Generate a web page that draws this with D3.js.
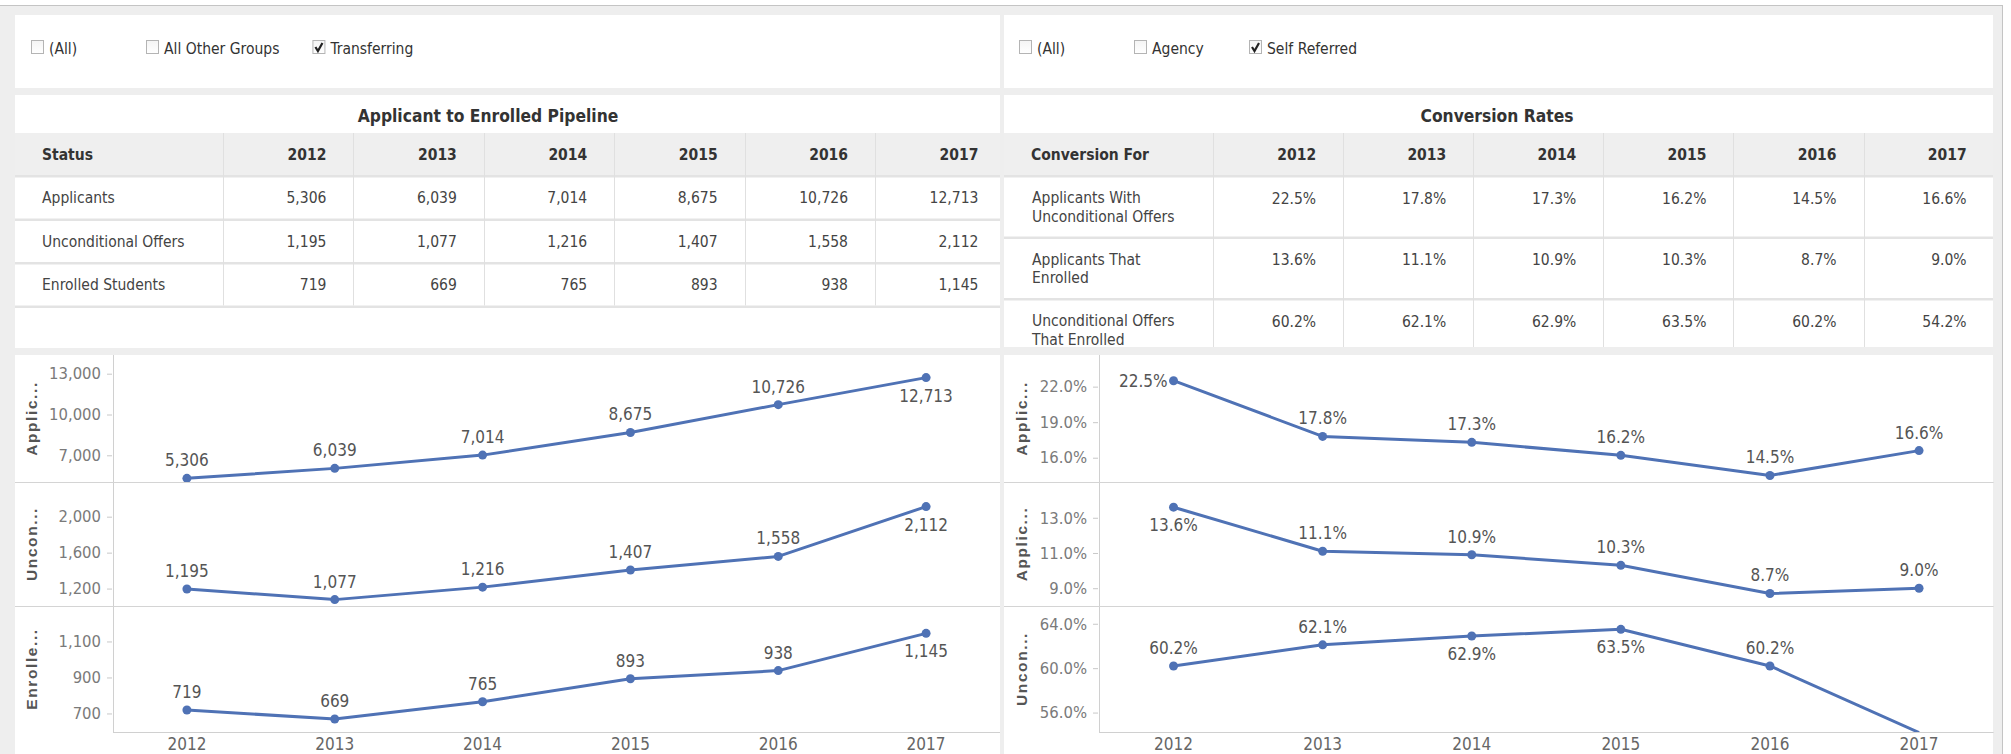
<!DOCTYPE html>
<html>
<head>
<meta charset="utf-8">
<script src="https://cdn.jsdelivr.net/npm/d3@7"></script>
<style>
  html, body { margin: 0; padding: 0; background: #fff; overflow: hidden; }
  svg { display: block; }
  text { font-family: "Liberation Sans Narrow", "Arial Narrow", "DejaVu Sans Condensed", sans-serif; }
</style>
</head>
<body>
<script>
const years = ["2012", "2013", "2014", "2015", "2016", "2017"];

// pipeline counts
const statusLabels = ["Applicants", "Unconditional Offers", "Enrolled Students"];
const applicants = [5306, 6039, 7014, 8675, 10726, 12713];
const uncondOffers = [1195, 1077, 1216, 1407, 1558, 2112];
const enrolled = [719, 669, 765, 893, 938, 1145];

// conversion rates, in percent
const conversionLabels = [
  ["Applicants With", "Unconditional Offers"],
  ["Applicants That", "Enrolled"],
  ["Unconditional Offers", "That Enrolled"]
];
const rateWithOffers = [22.5, 17.8, 17.3, 16.2, 14.5, 16.6];
const rateEnrolled = [13.6, 11.1, 10.9, 10.3, 8.7, 9.0];
const rateOffersEnrolled = [60.2, 62.1, 62.9, 63.5, 60.2, 54.2];

// axis ticks
const ticksApplicants = [7000, 10000, 13000];
const ticksOffers = [1200, 1600, 2000];
const ticksEnrolled = [700, 900, 1100];
const ticksRateOffers = [16, 19, 22];
const ticksRateEnrolled = [9, 11, 13];
const ticksRateOffersEnrolled = [56, 60, 64];

const axisTitlesLeft = ["Applic...", "Uncon...", "Enrolle..."];
const axisTitlesRight = ["Applic...", "Applic...", "Uncon..."];

// quick filters
const filtersLeft = [
  { label: "(All)", checked: false },
  { label: "All Other Groups", checked: false },
  { label: "Transferring", checked: true }
];
const filtersRight = [
  { label: "(All)", checked: false },
  { label: "Agency", checked: false },
  { label: "Self Referred", checked: true }
];

// where each mark label sits: t = above, b = below, l = left of point
const labelSideLeft = [
  ["t", "t", "t", "t", "t", "b"],
  ["t", "t", "t", "t", "t", "b"],
  ["t", "t", "t", "t", "t", "b"]
];
const labelSideRight = [
  ["l", "t", "t", "t", "t", "t"],
  ["b", "t", "t", "t", "t", "t"],
  ["t", "t", "b", "b", "t", "t"]
];

const W = 2011, H = 754;
const lineColor = "#4f72b5";
const fmtInt = d3.format(",");
const fmtPct = d => d3.format(".1f")(d) + "%";
const cellFont = 15.5;

const svg = d3.select("body").append("svg").attr("width", W).attr("height", H);

// dashboard background + frame
svg.append("rect").attr("x", -1).attr("y", 5.5).attr("width", 2003.5).attr("height", H)
  .attr("fill", "#eeeeee").attr("stroke", "#c4c4c4");

function panel(x, y, w, h) {
  svg.append("rect").attr("x", x).attr("y", y).attr("width", w).attr("height", h).attr("fill", "#fff");
}
panel(15, 15, 985, 73);
panel(1004, 15, 989, 73);
panel(15, 95, 985, 253);
panel(1004, 95, 989, 252);
panel(15, 355, 985, 400);
panel(1004, 355, 989, 400);

// ---- filters ----
const cbGrad = svg.append("defs").append("linearGradient").attr("id", "cbGrad")
  .attr("x1", 0).attr("y1", 0).attr("x2", 0).attr("y2", 1);
cbGrad.append("stop").attr("offset", 0).attr("stop-color", "#f4f4f4");
cbGrad.append("stop").attr("offset", 1).attr("stop-color", "#ffffff");

function drawFilters(items, x0, y) {
  let x = x0;
  items.forEach(it => {
    const g = svg.append("g").attr("transform", `translate(${x},${y})`);
    g.append("rect").attr("x", 0.5).attr("y", -6.5).attr("width", 12).attr("height", 13)
      .attr("fill", "url(#cbGrad)").attr("stroke", "#b4b4b4");
    if (it.checked) {
      g.append("path").attr("d", "M3,0 L5.5,4 L10,-4")
        .attr("fill", "none").attr("stroke", "#222").attr("stroke-width", 2.2);
    }
    const t = g.append("text").attr("x", 18).attr("y", 2).attr("dy", "0.35em")
      .attr("font-size", cellFont).attr("fill", "#333").text(it.label);
    const tw = t.node().getComputedTextLength();
    x += Math.max(115, 18 + tw + 33);
  });
}
drawFilters(filtersLeft, 31, 47);
drawFilters(filtersRight, 1019, 47);

// ---- tables ----
const sepColor = "#e3e3e3";
const divColor = "#e0e0e0";

function drawTableFrame(g, x0, x1, colScale, rowScale, bottom, titleText, titleX, firstHeader) {
  g.append("text").attr("x", titleX).attr("y", 116).attr("dy", "0.35em")
    .attr("text-anchor", "middle").attr("font-size", 17.3).attr("font-weight", "bold")
    .attr("fill", "#333").text(titleText);

  g.append("rect").attr("x", x0).attr("y", 133).attr("width", x1 - x0).attr("height", 42)
    .attr("fill", "#efefef");

  g.selectAll(null).data(rowScale.domain()).enter().append("rect")
    .attr("x", x0).attr("width", x1 - x0)
    .attr("y", d => rowScale(d)).attr("height", 2.5).attr("fill", sepColor);
  g.append("rect").attr("x", x0).attr("width", x1 - x0)
    .attr("y", rowScale.range()[1]).attr("height", 2.5).attr("fill", sepColor);

  g.selectAll(null).data(colScale.domain()).enter().append("line")
    .attr("x1", d => Math.round(colScale(d)) + 0.5).attr("x2", d => Math.round(colScale(d)) + 0.5)
    .attr("y1", 133).attr("y2", bottom).attr("stroke", divColor);

  g.append("text").attr("x", x0 + 27).attr("y", 155).attr("dy", "0.35em")
    .attr("font-size", cellFont).attr("font-weight", "bold").attr("fill", "#333").text(firstHeader);
  g.selectAll(null).data(colScale.domain()).enter().append("text")
    .attr("x", d => colScale(d) + colScale.bandwidth() - 27).attr("y", 155).attr("dy", "0.35em")
    .attr("text-anchor", "end").attr("font-size", cellFont).attr("font-weight", "bold").attr("fill", "#333")
    .text(d => d);
}

// left table: counts
const colL = d3.scaleBand().domain(years).range([223, 1005.4]);
const rowL = d3.scaleBand().domain(statusLabels).range([175, 305.5]);
drawTableFrame(svg, 15, 1000, colL, rowL, 305.5, "Applicant to Enrolled Pipeline", 488, "Status");
const countRows = [applicants, uncondOffers, enrolled];
statusLabels.forEach((lab, i) => {
  const cy = rowL(lab) + 23;
  svg.append("text").attr("x", 42).attr("y", cy).attr("dy", "0.35em")
    .attr("font-size", cellFont).attr("fill", "#444").text(lab);
  svg.selectAll(null).data(countRows[i]).enter().append("text")
    .attr("x", (d, j) => colL(years[j]) + colL.bandwidth() - 27).attr("y", cy).attr("dy", "0.35em")
    .attr("text-anchor", "end").attr("font-size", cellFont).attr("fill", "#444").text(d => fmtInt(d));
});

// right table: conversion rates (clipped by panel bottom)
svg.append("clipPath").attr("id", "clipTableR").append("rect")
  .attr("x", 1004).attr("y", 95).attr("width", 989).attr("height", 252);
const colR = d3.scaleBand().domain(years).range([1213, 1993.6]);
const rowR = d3.scaleBand().domain(d3.range(3)).range([175, 359.5]);
const tableR = svg.append("g").attr("clip-path", "url(#clipTableR)");
drawTableFrame(tableR, 1004, 1993, colR, rowR, 347, "Conversion Rates", 1497, "Conversion For");

const rateRows = [rateWithOffers, rateEnrolled, rateOffersEnrolled];
conversionLabels.forEach((lines, i) => {
  const top = rowR(i) + 2.5;
  tableR.selectAll(null).data(lines).enter().append("text")
    .attr("x", 1032).attr("y", (d, k) => top + 20.5 + k * 18.5).attr("dy", "0.35em")
    .attr("font-size", cellFont).attr("fill", "#444").text(d => d);
  tableR.selectAll(null).data(rateRows[i]).enter().append("text")
    .attr("x", (d, j) => colR(years[j]) + colR.bandwidth() - 27).attr("y", top + 21).attr("dy", "0.35em")
    .attr("text-anchor", "end").attr("font-size", cellFont).attr("fill", "#444").text(d => fmtPct(d));
});

// ---- line charts ----
const paneEdges = [355, 482, 606, 732];

function drawCharts(id, panes, x0, axisX, x1, titleX) {
  const x = d3.scaleBand().domain(years).range([axisX, x1]);
  const cx = d => x(d) + x.bandwidth() / 2;

  // axis line
  svg.append("line").attr("x1", axisX + 0.5).attr("x2", axisX + 0.5)
    .attr("y1", 355).attr("y2", 732).attr("stroke", "#d0d0d0");

  panes.forEach((p, i) => {
    const top = paneEdges[i], bottom = paneEdges[i + 1];
    const y = d3.scaleLinear().domain(p.domain).range([bottom, top]);

    if (i < 2) {
      svg.append("line").attr("x1", x0).attr("x2", x1).attr("y1", bottom + 0.5).attr("y2", bottom + 0.5)
        .attr("stroke", "#d4d4d4");
    } else {
      svg.append("line").attr("x1", axisX).attr("x2", x1).attr("y1", bottom + 0.5).attr("y2", bottom + 0.5)
        .attr("stroke", "#d0d0d0");
    }

    const ax = svg.append("g").attr("transform", `translate(${axisX},0)`)
      .call(d3.axisLeft(y).tickValues(p.ticks).tickSize(5).tickPadding(7).tickFormat(p.fmt));
    ax.select(".domain").remove();
    ax.selectAll(".tick line").attr("stroke", "#c8c8c8").attr("transform", "translate(-1,0)");
    ax.selectAll(".tick text").attr("font-family", null).attr("font-size", 16.5).attr("fill", "#7a7a7a");

    svg.append("text")
      .attr("transform", `translate(${titleX},${(top + bottom) / 2}) rotate(-90)`)
      .attr("dy", "0.35em").attr("text-anchor", "middle")
      .style("font-family", "'Liberation Sans', Arial, sans-serif")
      .style("letter-spacing", "1.6px")
      .attr("font-size", 15.5).attr("font-weight", "bold").attr("fill", "#555").text(p.title);

    const clipId = `clip-${id}-${i}`;
    svg.append("clipPath").attr("id", clipId).append("rect")
      .attr("x", axisX + 1).attr("y", top).attr("width", x1 - axisX - 1).attr("height", bottom - top);
    const g = svg.append("g").attr("clip-path", `url(#${clipId})`);

    const pts = p.values.map((v, j) => ({ year: years[j], v, side: p.sides[j] }));
    const [lo, hi] = p.domain;
    const visible = pts.filter(d => d.v >= lo && d.v <= hi);

    g.append("path").datum(pts)
      .attr("fill", "none").attr("stroke", lineColor).attr("stroke-width", 3)
      .attr("stroke-linejoin", "round")
      .attr("d", d3.line().x(d => cx(d.year)).y(d => y(d.v)));

    g.selectAll(null).data(visible).enter().append("circle")
      .attr("cx", d => cx(d.year)).attr("cy", d => y(d.v)).attr("r", 4.5).attr("fill", lineColor);

    svg.selectAll(null).data(visible).enter().append("text")
      .attr("x", d => d.side === "l" ? cx(d.year) - 6 : cx(d.year))
      .attr("y", d => d.side === "t" ? y(d.v) - 18 : d.side === "b" ? y(d.v) + 18 : y(d.v))
      .attr("dy", "0.35em")
      .attr("text-anchor", d => d.side === "l" ? "end" : "middle")
      .attr("font-size", 17).attr("fill", "#555")
      .text(d => p.fmt(d.v));
  });

  svg.selectAll(null).data(years).enter().append("text")
    .attr("x", d => cx(d)).attr("y", 744).attr("dy", "0.35em")
    .attr("text-anchor", "middle").attr("font-size", 17).attr("fill", "#666")
    .text(d => d);
}

drawCharts("L", [
  { values: applicants, domain: [5037, 14375], ticks: ticksApplicants, fmt: fmtInt, title: axisTitlesLeft[0], sides: labelSideLeft[0] },
  { values: uncondOffers, domain: [1006, 2386], ticks: ticksOffers, fmt: fmtInt, title: axisTitlesLeft[1], sides: labelSideLeft[1] },
  { values: enrolled, domain: [597, 1297], ticks: ticksEnrolled, fmt: fmtInt, title: axisTitlesLeft[2], sides: labelSideLeft[2] }
], 15, 113, 1000, 32);

drawCharts("R", [
  { values: rateWithOffers, domain: [13.95, 24.67], ticks: ticksRateOffers, fmt: fmtPct, title: axisTitlesRight[0], sides: labelSideRight[0] },
  { values: rateEnrolled, domain: [7.99, 15.03], ticks: ticksRateEnrolled, fmt: fmtPct, title: axisTitlesRight[1], sides: labelSideRight[1] },
  { values: rateOffersEnrolled, domain: [54.25, 65.6], ticks: ticksRateOffersEnrolled, fmt: fmtPct, title: axisTitlesRight[2], sides: labelSideRight[2] }
], 1004, 1099, 1993.6, 1022);
</script>
</body>
</html>
